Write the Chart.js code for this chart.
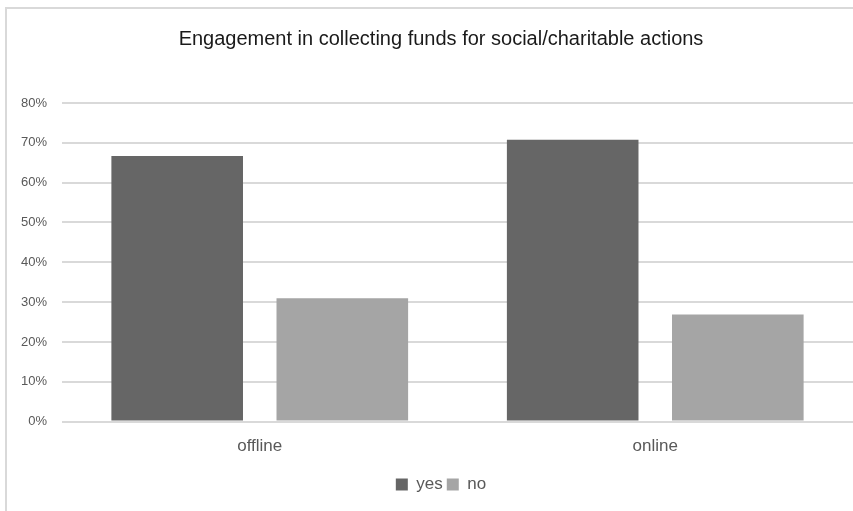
<!DOCTYPE html>
<html>
<head>
<meta charset="utf-8">
<script src="https://cdn.jsdelivr.net/npm/chart.js@4.4.0/dist/chart.umd.min.js"></script>
<style>
    html, body { margin: 0; padding: 0; background: #fff; }
    .wrap { position: relative; width: 853px; height: 511px; overflow: hidden; }
    .frame { position: absolute; left: 5px; top: 7px; width: 900px; height: 600px;
             border-left: 2px solid #d9d9d9; border-top: 2px solid #d9d9d9; }
    canvas { position: absolute; left: 0; top: 0; }
</style>
</head>
<body>
<div class="wrap">
    <div class="frame"></div>
    <canvas id="chart" width="882" height="511"></canvas>
</div>
<script>
// waarden
const categories = ['offline', 'online'];
const yesValues = [66.7, 70.8];
const noValues = [31.0, 26.9];
const yTicks = [0, 10, 20, 30, 40, 50, 60, 70, 80];

const ctx = document.getElementById('chart');
const font = "'Liberation Sans', Arial, sans-serif";

new Chart(ctx, {
    type: 'bar',
    data: {
        labels: categories,
        datasets: [{
            label: 'yes',
            data: yesValues,
            backgroundColor: '#666666'
        }, {
            label: 'no',
            data: noValues,
            backgroundColor: '#a5a5a5'
        }]
    },
    options: {
        responsive: false,
        animation: false,
        categoryPercentage: 0.835,
        barPercentage: 0.797,
        layout: { padding: { left: 0, right: 0, top: 0, bottom: 8 } },
        plugins: {
            title: {
                display: true,
                text: 'Engagement in collecting funds for social/charitable actions',
                color: '#1a1a1a',
                font: { family: font, size: 20, weight: 'normal' },
                padding: { top: 27, bottom: 52 }
            },
            legend: {
                position: 'bottom',
                labels: {
                    color: '#595959',
                    font: { family: font, size: 17 },
                    boxWidth: 12,
                    boxHeight: 12,
                    padding: 4
                }
            },
            tooltip: { enabled: false }
        },
        scales: {
            x: {
                grid: { display: false, drawTicks: false },
                border: { display: false },
                ticks: {
                    color: '#595959',
                    font: { family: font, size: 17 },
                    padding: 15
                }
            },
            y: {
                min: 0,
                max: 80,
                afterFit: function (scale) { scale.width = 62; },
                afterBuildTicks: function (scale) {
                    scale.ticks = yTicks.map(v => ({ value: v }));
                },
                grid: { color: '#d9d9d9', lineWidth: 2, drawTicks: false },
                border: { display: false },
                ticks: {
                    color: '#595959',
                    font: { family: font, size: 13 },
                    padding: 15,
                    callback: v => v + '%'
                }
            },
            // lege as rechts: de grafiek loopt door buiten de foto
            yRight: {
                position: 'right',
                min: 0,
                max: 80,
                afterFit: function (scale) { scale.width = 29; },
                grid: { display: false, drawTicks: false },
                border: { display: false },
                ticks: { display: false }
            }
        }
    }
});
</script>
</body>
</html>
